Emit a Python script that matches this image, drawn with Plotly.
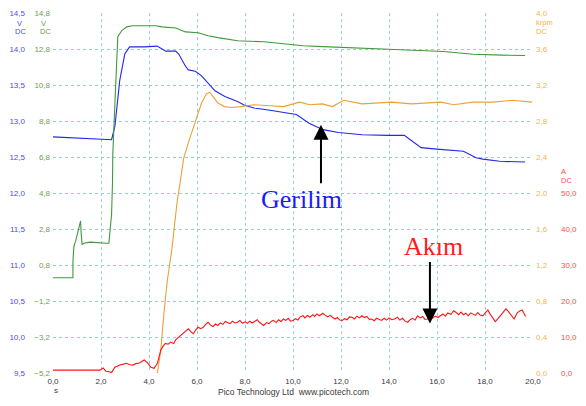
import plotly.graph_objects as go

# ---------------- data ----------------
blue_t = [0.0, 1.15, 2.44, 2.58, 2.78, 2.99, 3.19, 3.8, 4.34, 4.7, 5.11, 5.24, 5.52, 5.64, 5.93,
          6.18, 6.46, 6.75, 7.16, 7.69, 7.98, 8.38, 9.04, 9.86, 10.14, 10.67, 11.25, 11.9, 12.88,
          13.95, 14.64, 14.93, 15.34, 15.99, 17.1, 17.63, 17.91, 18.61, 19.67]
blue_v = [12.78, 12.76, 12.74, 12.93, 13.56, 13.93, 14.03, 14.03, 14.04, 13.97, 13.97, 13.93, 13.76,
          13.71, 13.69, 13.63, 13.52, 13.42, 13.34, 13.27, 13.22, 13.18, 13.15, 13.11, 13.09, 12.97,
          12.88, 12.84, 12.81, 12.80, 12.80, 12.73, 12.63, 12.61, 12.58, 12.49, 12.47, 12.44, 12.43]

green_t = [0.0, 0.83, 0.83, 0.87, 0.94, 1.12, 1.15, 1.17, 1.21, 1.28, 1.55, 2.24, 2.33, 2.40, 2.44,
           2.48, 2.49, 2.58, 2.66, 2.70, 2.86, 3.07, 3.31, 4.01, 4.29, 4.54, 5.11, 5.52, 6.05, 6.46,
           6.87, 7.69, 8.79, 9.61, 10.42, 11.25, 12.19, 14.23, 16.28, 17.51, 18.73, 19.67]
green_v = [0.09, 0.09, 1.01, 1.83, 2.11, 3.11, 3.25, 2.66, 1.93, 2.01, 2.07, 2.01, 2.01, 3.04, 3.59,
           5.40, 6.89, 9.80, 12.93, 13.48, 13.81, 14.03, 14.09, 14.09, 14.09, 14.03, 13.97, 13.75,
           13.70, 13.54, 13.43, 13.26, 13.20, 13.09, 12.98, 12.93, 12.87, 12.77, 12.66, 12.51, 12.46, 12.44]

orange_t = [4.35, 4.49, 4.62, 4.76, 4.96, 5.17, 5.30, 5.44, 5.64, 5.92, 6.19, 6.39, 6.53, 6.67, 6.87,
            7.14, 7.42, 7.82, 8.37, 9.05, 9.60, 10.28, 10.69, 11.23, 11.64, 12.11, 12.88, 14.11,
            14.93, 16.16, 16.69, 17.51, 18.32, 19.14, 19.96]
orange_k = [0.0, 0.25, 0.66, 1.02, 1.39, 1.90, 2.12, 2.38, 2.56, 2.78, 3.00, 3.10, 3.12, 3.07, 3.00,
            2.96, 2.95, 2.96, 2.98, 2.97, 2.96, 3.01, 2.98, 2.99, 2.96, 3.03, 2.99, 3.01, 2.99, 3.01,
            2.98, 3.01, 3.01, 3.03, 3.01]

red_t = [0.0, 0.5, 1.0, 1.5, 1.8, 1.96, 2.09, 2.2, 2.3, 2.44, 2.58, 2.7, 2.78, 2.9, 3.06, 3.2, 3.33,
         3.45, 3.6, 3.7, 3.8, 3.94, 4.08, 4.21, 4.35, 4.49, 4.6, 4.69, 4.8, 4.9, 5.03, 5.12, 5.24,
         5.34, 5.44, 5.54, 5.64, 5.75, 5.85, 5.95, 6.05, 6.15, 6.26, 6.36, 6.46, 6.56, 6.67, 6.77,
         6.87, 6.97, 7.08, 7.18, 7.28, 7.38, 7.48, 7.58, 7.69, 7.79, 7.89, 8.0, 8.1, 8.2, 8.3, 8.41,
         8.51, 8.6, 8.7, 8.78, 8.9, 9.0, 9.1, 9.19, 9.3, 9.4, 9.5, 9.6, 9.7, 9.8, 9.9, 10.01, 10.1,
         10.2, 10.3, 10.42, 10.5, 10.6, 10.7, 10.83, 10.9, 11.0, 11.1, 11.24, 11.35, 11.45, 11.54,
         11.64, 11.75, 11.85, 11.95, 12.05, 12.15, 12.25, 12.36, 12.46, 12.56, 12.66, 12.77, 12.87,
         12.97, 13.07, 13.18, 13.28, 13.38, 13.48, 13.59, 13.69, 13.8, 13.9, 14.0, 14.12, 14.23,
         14.35, 14.45, 14.56, 14.67, 14.78, 14.88, 14.98, 15.09, 15.19, 15.3, 15.4, 15.5, 15.6, 15.7,
         15.8, 15.93, 16.04, 16.14, 16.25, 16.35, 16.45, 16.58, 16.69, 16.8, 16.9, 17.0, 17.1, 17.2,
         17.3, 17.4, 17.51, 17.6, 17.7, 17.8, 17.91, 18.0, 18.12, 18.2, 18.3, 18.43, 18.55, 18.65,
         18.76, 18.87, 18.97, 19.08, 19.21, 19.28, 19.35, 19.45, 19.55, 19.62, 19.69]
red_a = [0.8, 0.8, 0.8, 0.8, 0.9, 0.8, 1.4, 0.5, 0.4, 0.1, 1.6, 2.0, 2.2, 2.4, 2.7, 2.3, 2.2, 2.6,
         2.8, 3.2, 3.6, 2.8, 1.6, 1.3, 2.7, 6.3, 7.6, 8.2, 8.0, 8.6, 8.2, 9.3, 10.0, 10.4, 11.1, 11.5,
         12.3, 11.4, 10.9, 12.0, 12.7, 12.3, 12.7, 13.5, 14.1, 13.3, 12.9, 13.6, 13.2, 13.9, 13.5,
         14.3, 14.1, 13.7, 14.4, 13.9, 14.1, 14.6, 13.8, 14.2, 13.8, 14.4, 13.9, 14.3, 14.8, 14.1,
         13.6, 13.2, 14.0, 13.7, 14.4, 14.6, 14.0, 14.8, 14.3, 15.0, 14.6, 15.2, 14.4, 14.6, 15.1,
         14.7, 15.6, 15.9, 15.3, 16.0, 15.5, 16.2, 15.7, 16.4, 15.9, 16.6, 16.0, 15.6, 16.0, 15.5,
         15.0, 15.4, 14.7, 14.6, 15.1, 14.8, 15.6, 15.5, 15.0, 15.8, 15.3, 15.9, 15.4, 15.7, 14.9,
         15.0, 14.5, 15.2, 14.8, 14.6, 15.2, 14.7, 15.3, 14.8, 15.0, 15.5, 14.7, 15.2, 14.4, 14.1,
         14.8, 15.2, 14.7, 15.9, 15.3, 15.7, 14.9, 15.0, 15.6, 15.2, 15.8, 15.4, 15.9, 16.4, 15.8,
         16.7, 16.3, 17.3, 16.8, 16.2, 16.9, 16.2, 16.6, 15.9, 16.7, 16.4, 16.0, 16.8, 16.1, 15.9,
         16.6, 17.5, 16.5, 15.4, 14.3, 15.2, 16.0, 16.9, 17.8, 17.1, 16.0, 15.0, 15.9, 16.8, 17.2,
         17.5, 16.6, 15.7]

x_ticks = [0, 2, 4, 6, 8, 10, 12, 14, 16, 18, 20]
red_ticks = [0, 10, 20, 30, 40, 50]

# ---------------- styling ----------------
W, H = 586, 406
ML, MR, MT, MB = 52, 45, 9, 33
PW, PH = W - ML - MR, H - MT - MB

def px(xp):
    return (xp - ML) / PW

def py(yp):
    return (H - MB - yp) / PH

BLUE_L, GREEN_L, ORANGE_L, RED_L = "#4b4bf5", "#6e9e50", "#f0b54a", "#ff4d4d"
GRID = "#92cbe0"
lab_font = dict(family="Liberation Sans, Arial, sans-serif", size=8)

fig = go.Figure()
fig.add_trace(go.Scatter(x=green_t, y=green_v, yaxis="y2", mode="lines",
                         line=dict(color="#3e9a3a", width=1.1), hoverinfo="skip"))
fig.add_trace(go.Scatter(x=blue_t, y=blue_v, yaxis="y", mode="lines",
                         line=dict(color="#2626e8", width=1.1), hoverinfo="skip"))
fig.add_trace(go.Scatter(x=orange_t, y=orange_k, yaxis="y3", mode="lines",
                         line=dict(color="#eaa235", width=1.1), hoverinfo="skip"))
fig.add_trace(go.Scatter(x=red_t, y=red_a, yaxis="y4", mode="lines",
                         line=dict(color="#ff1414", width=1.1), hoverinfo="skip"))

fig.update_layout(
    width=W, height=H, margin=dict(l=ML, r=MR, t=MT, b=MB),
    paper_bgcolor="white", plot_bgcolor="white", showlegend=False,
    separators=",.",
    xaxis=dict(range=[0, 20], tickvals=x_ticks, tickformat=".1f", showgrid=True,
               gridcolor=GRID, griddash="dot", gridwidth=1, zeroline=False, showline=False,
               tickfont=dict(lab_font, color="#3a3a3a"), ticks="", ticklabelstandoff=2),
    yaxis=dict(range=[9.5, 14.5], tick0=9.5, dtick=0.5, tickformat=".1f", side="left",
               showgrid=True, gridcolor=GRID, griddash="dot", gridwidth=1, zeroline=False,
               tickfont=dict(lab_font, color=BLUE_L), ticks="", ticklabelstandoff=27),
    yaxis2=dict(range=[-5.2, 14.8], tick0=-5.2, dtick=2, tickformat=".1f", side="left",
                overlaying="y", showgrid=False, zeroline=False,
                tickfont=dict(lab_font, color=GREEN_L), ticks="", ticklabelstandoff=2),
    yaxis3=dict(range=[0, 4], tick0=0, dtick=0.4, tickformat=".1f", side="right",
                overlaying="y", showgrid=False, zeroline=False,
                tickfont=dict(lab_font, color=ORANGE_L), ticks="", ticklabelstandoff=2),
    yaxis4=dict(range=[0, 100], tickvals=red_ticks, tickformat=".1f", side="right",
                overlaying="y", showgrid=False, zeroline=False,
                tickfont=dict(lab_font, color=RED_L), ticks="", ticklabelstandoff=27),
)

# white boxes behind the text labels (cover gridlines)
for (x0, x1, y0, y1) in [(250, 393, 222, 177), (387, 535, 270, 222)]:
    fig.add_shape(type="rect", xref="paper", yref="paper", layer="between",
                  x0=px(x0), x1=px(x1), y0=py(y0), y1=py(y1),
                  fillcolor="white", line=dict(width=0))

ann = []
def label(text, xp, yp, color, size=8, xanchor="center", family="Liberation Sans, Arial, sans-serif"):
    ann.append(dict(text=text, x=px(xp), y=py(yp), xref="paper", yref="paper",
                    showarrow=False, xanchor=xanchor, yanchor="middle", borderpad=0,
                    font=dict(family=family, size=size, color=color)))

# axis unit labels
label("V", 18, 19.5, BLUE_L, size=7.5)
label("DC", 19, 28, BLUE_L, size=7.5)
label("V", 42, 19.5, GREEN_L, size=7.5)
label("DC", 44.5, 28, GREEN_L, size=7.5)
label("krpm", 543, 19, ORANGE_L, size=7.5, xanchor="left")
label("DC", 543, 27.5, ORANGE_L, size=7.5, xanchor="left")
label("A", 568, 169.5, RED_L, size=7.5, xanchor="left")
label("DC", 568, 178, RED_L, size=7.5, xanchor="left")
label("s", 55, 391, "#3a3a3a")
label("Pico Technology Ltd  www.picotech.com", 297, 392, "#3a3a3a", size=8.5)

# big text labels
label("Gerilim", 305, 198, "#1a1aff", size=26, family="Liberation Serif, Times New Roman, serif")
label("Akım", 440, 245, "#ff1a1a", size=26, family="Liberation Serif, Times New Roman, serif")

# arrows
ann.append(dict(x=px(325), y=py(122), xref="paper", yref="paper", text="", showarrow=True,
                ax=0, ay=60, arrowhead=2, arrowsize=1.5, arrowwidth=2, arrowcolor="black"))
ann.append(dict(x=px(436), y=py(323), xref="paper", yref="paper", text="", showarrow=True,
                ax=0, ay=-63, arrowhead=2, arrowsize=1.5, arrowwidth=2, arrowcolor="black"))

fig.update_layout(annotations=ann)
fig.write_html("out.html")
